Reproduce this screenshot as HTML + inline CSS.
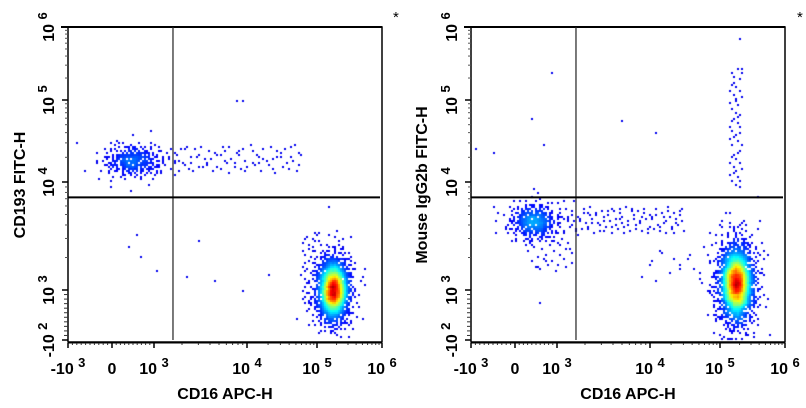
<!DOCTYPE html>
<html><head><meta charset="utf-8">
<style>
html,body{margin:0;padding:0;background:#fff;}
#wrap{position:relative;width:806px;height:408px;overflow:hidden;font-family:"Liberation Sans",sans-serif;}
canvas,svg{position:absolute;left:0;top:0;}
</style></head>
<body>
<div id="wrap">
<canvas id="cv" width="806" height="408"></canvas>
<svg id="sv" width="806" height="408"></svg>
</div>
<script>
// ---- data ----
const xTickValues = [-1000, 0, 1000, 10000, 100000, 1000000];
const xTickExp = ["-10|3", "0|", "10|3", "10|4", "10|5", "10|6"];
const yTickValues = [-100, 1000, 10000, 100000, 1000000];
const yTickExp = ["-10|2", "10|3", "10|4", "10|5", "10|6"];
const panelTitlesY = ["CD193 FITC-H", "Mouse IgG2b FITC-H"];
const panelTitleX = "CD16 APC-H";
const gateX = [1600, 1600];
const gateY = [7200, 7200];
// clusters: panel, centerX, centerY, count, spreadX(px), spreadY(px)
const clusterPanel = [0, 0, 1, 1];
const clusterCX = [180000, 500, 180000, 450];
const clusterCY = [1000, 18000, 1150, 4300];
const clusterCount = [1500, 320, 1700, 360];
const clusterSX = [8, 14, 9, 12];
const clusterSY = [16, 8, 20, 9];
// sparse tails
const tailPanel = [0, 0, 1, 1, 1, 1];
const tailX0 = [1000, 60000, 1000, 140000, 300, 8000];
const tailX1 = [60000, 120000, 30000, 220000, 1500, 100000];
const tailY0 = [13000, 500, 3300, 9000, 1500, 1200];
const tailY1 = [28000, 3500, 5800, 300000, 3000, 2500];
const tailCount = [90, 50, 110, 50, 30, 18];
// individual outliers
const outPanel = [0,0,0,0,0,0,0,0,0,0,0,0,1,1,1,1,1,1,1,1,1,1];
const outX = [8000,9000,600,400,700,1100,2300,4500,9000,20000,3000,-600,900,400,5000,12000,-900,-500,200000,220000,700,600];
const outY = [100000,95000,3300,2500,2000,1500,1300,1200,1000,1400,2900,14000,230000,60000,55000,40000,25000,22000,700000,260000,28000,700];
const panelOffset = [0, 403];

// ---- axis functions ----
const xPix = [68, 112, 154, 247, 317, 382];
const yPix = [340, 290, 182, 100, 27];
function xScale(v){
  if (v <= 1000){ return v <= 0 ? 112 + v/1000*44 : 112 + v/1000*42; }
  const l = Math.log10(v);
  const d = Math.min(Math.floor(l), 5);
  const i = d - 1;
  return xPix[i] + (l - d) * (xPix[i+1] - xPix[i]);
}
function yScale(v){
  if (v <= 1000){ return 290 - (v - 1000) / 1100 * 50; }
  const l = Math.log10(v);
  const d = Math.min(Math.floor(l), 5);
  const i = d - 2;
  return yPix[i] + (l - d) * (yPix[i+1] - yPix[i]);
}
function halton(i, b){ let f=1, r=0; while(i>0){ f/=b; r+=f*(i%b); i=Math.floor(i/b);} return r; }
let seqIdx = 1;
function pair(){ const a=halton(seqIdx,2), b=halton(seqIdx,3), c=halton(seqIdx,5); seqIdx++; return [a,b,c]; }

const pts = [[],[]];
for (let k=0;k<clusterCount.length;k++){
  const p = clusterPanel[k];
  const cx = xScale(clusterCX[k]), cy = yScale(clusterCY[k]);
  for (let i=0;i<clusterCount[k];i++){
    const [a,b,c] = pair();
    const r = Math.sqrt(-2*Math.log(Math.max(a,1e-6)));
    const t = 2*Math.PI*b;
    const heavy = c < 0.15 ? 1.5 : 1;
    pts[p].push([cx + r*Math.cos(t)*clusterSX[k]*heavy, cy + r*Math.sin(t)*clusterSY[k]*heavy]);
  }
}
for (let k=0;k<tailCount.length;k++){
  const p = tailPanel[k];
  const x0 = xScale(tailX0[k]), x1 = xScale(tailX1[k]);
  const y0 = yScale(tailY0[k]), y1 = yScale(tailY1[k]);
  for (let i=0;i<tailCount[k];i++){
    const [a,b] = pair();
    pts[p].push([x0 + a*(x1-x0), y0 + b*(y1-y0)]);
  }
}
for (let k=0;k<outX.length;k++) pts[outPanel[k]].push([xScale(outX[k]), yScale(outY[k])]);

// ---- render dots as density bins ----
const ctx = document.getElementById('cv').getContext('2d');
function jet(t){
  const r = Math.max(0,Math.min(1,1.5-Math.abs(4*t-3)));
  const g = Math.max(0,Math.min(1,1.5-Math.abs(4*t-2)));
  const b = Math.max(0,Math.min(1,1.5-Math.abs(4*t-1)));
  return `rgb(${r*255|0},${g*255|0},${b*255|0})`;
}
for (let p=0;p<2;p++){
  const bins = {};
  pts[p].forEach(([x,y])=>{
    if (x<69||x>381||y<28||y>340) return;
    const kk = Math.floor(x/2)+','+Math.floor(y/2);
    bins[kk]=(bins[kk]||0)+1;
  });
  const dens = {};
  let mx = 0;
  for (const k in bins){
    const [bx,by] = k.split(',').map(Number);
    let s=0;
    for(let dx=-2;dx<=2;dx++)for(let dy=-2;dy<=2;dy++){ s += bins[(bx+dx)+','+(by+dy)]||0; }
    dens[k]=s; mx=Math.max(mx,s);
  }
  const keys = Object.keys(bins).sort((a,b)=>dens[a]-dens[b]);
  keys.forEach(k=>{
    const [bx,by] = k.split(',').map(Number);
    const f = Math.max(0,(dens[k]-3)/(mx-3));
    const t = 0.11 + 0.84*Math.pow(f,1.3);
    ctx.fillStyle = jet(t);
    ctx.fillRect(bx*2+panelOffset[p], by*2, 2, 2);
  });
}

// ---- axes ----
const sv = document.getElementById('sv');
const NS = 'http://www.w3.org/2000/svg';
function el(tag, attrs, parent){ const e=document.createElementNS(NS,tag); for(const k in attrs) e.setAttribute(k,attrs[k]); (parent||sv).appendChild(e); return e; }
for (let p=0;p<2;p++){
  const o = panelOffset[p];
  const g = el('g',{transform:`translate(${o},0)`});
  
  
  const frame = el('rect',{x:68,y:27,width:314,height:315,fill:'none',stroke:'#000','stroke-width':1.5},g);
  
  
  el('line',{x1:61,y1:27,x2:382,y2:27,stroke:'#000','stroke-width':2},g);
  el('line',{x1:68,y1:342.5,x2:382,y2:342.5,stroke:'#000','stroke-width':2},g);
  for (let d=3; d<6; d++) for (let m=2;m<10;m++){
    const x = xScale(m*Math.pow(10,d));
    el('line',{x1:x,y1:343,x2:x,y2:345,stroke:'#333','stroke-width':1},g);
  }
  for (let v=-900; v<1000; v+=100){ const x=xScale(v); el('line',{x1:x,y1:343,x2:x,y2:345,stroke:'#333','stroke-width':1},g); }
  for (let d=3; d<6; d++) for (let m=2;m<10;m++){
    const y = yScale(m*Math.pow(10,d));
    el('line',{x1:65,y1:y,x2:68,y2:y,stroke:'#555','stroke-width':1},g);
  }
  for (let v=-100; v<1000; v+=100){ const y=yScale(v); el('line',{x1:64,y1:y,x2:68,y2:y,stroke:'#333','stroke-width':1},g); }
  xTickValues.forEach((v,i)=>{
    const x = xScale(v);
    el('line',{x1:x,y1:343,x2:x,y2:348,stroke:'#000','stroke-width':1.5},g);
    const [base,ex] = xTickExp[i].split('|');
    const t = el('text',{x:x,y:374,'text-anchor':'middle','font-size':16,'font-weight':'bold','font-family':'Liberation Sans, sans-serif'},g);
    
    
    t.appendChild(document.createTextNode(base+(ex?' ':'')));
    if (ex){ const s=el('tspan',{dy:-7,'font-size':13},t); s.textContent=ex; }
  });
  yTickValues.forEach((v,i)=>{
    const y = yScale(v);
    el('line',{x1:62,y1:y,x2:68,y2:y,stroke:'#000','stroke-width':1.5},g);
    const [base,ex] = yTickExp[i].split('|');
    const t = el('text',{transform:`translate(54,${y}) rotate(-90)`,'text-anchor':'middle','font-size':16,'font-weight':'bold','font-family':'Liberation Sans, sans-serif'},g);
    
    
    t.appendChild(document.createTextNode(base+' '));
    if (ex){ const s=el('tspan',{dy:-7,'font-size':13},t); s.textContent=ex; }
  });
  const gx = xScale(gateX[p]), gy = yScale(gateY[p]);
  const vl = el('line',{x1:gx,y1:27,x2:gx,y2:340,stroke:'#222','stroke-width':1.2},g);
  
  
  const hl = el('line',{x1:68,y1:gy,x2:380,y2:gy,stroke:'#000','stroke-width':2},g);
  
  
  const xt = el('text',{x:225,y:399,'text-anchor':'middle','font-size':16,'font-weight':'bold','font-family':'Liberation Sans, sans-serif'},g);
  
  
  xt.textContent = panelTitleX;
  const yt = el('text',{transform:`translate(${p?24:25},185) rotate(-90)`,'text-anchor':'middle','font-size':16,'font-weight':'bold','font-family':'Liberation Sans, sans-serif'},g);
  
  
  yt.textContent = panelTitlesY[p];
  const st = el('text',{x:p?394:393,y:22,'font-size':15,'font-family':'Liberation Sans, sans-serif'},g);
  
  
  st.textContent = '*';
}
</script>
</body></html>
